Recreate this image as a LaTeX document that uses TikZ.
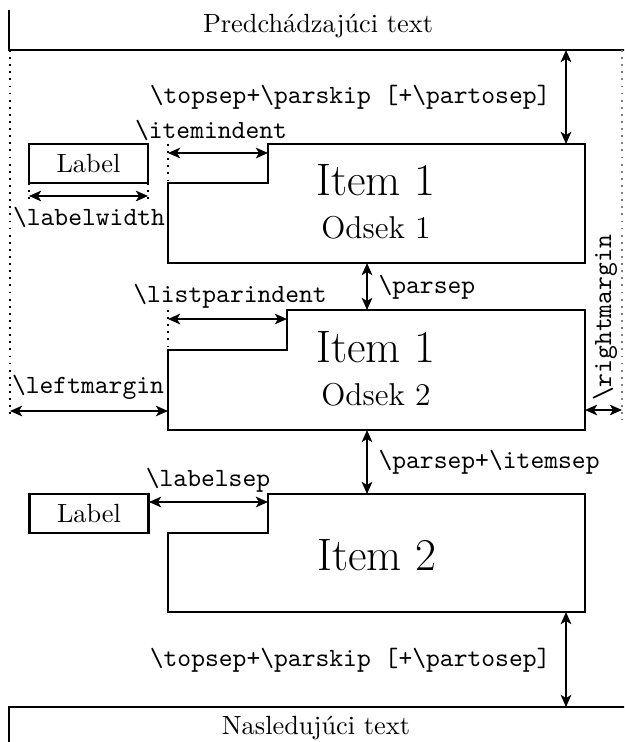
\documentclass[tikz,border=0pt]{standalone}
\usetikzlibrary{arrows.meta}
\begin{document}
\begin{tikzpicture}[x=0.38pt,y=-0.38pt,
  frame/.style={line width=1.05pt},
  dim/.style={line width=1.05pt,{Stealth[length=4.6pt,width=4pt,inset=1.2pt]}-{Stealth[length=4.6pt,width=4pt,inset=1.2pt]}},
  guide/.style={dotted,line width=0.7pt},
  lbl/.style={font=\ttfamily,inner sep=0pt},
  itemtxt/.style={font=\LARGE,inner sep=0pt},
  subtxt/.style={font=\large,inner sep=0pt},
  labelbox/.style={draw,frame,minimum width=45.2pt,minimum height=14.8pt,inner sep=0pt}]
\useasboundingbox (0,0) rectangle (624,742);
\clip (0,0) rectangle (624,742);

% previous and next text
\draw[frame] (9,10) -- (9,50) -- (640,50);
\node[inner sep=0pt] (prev) at (318,26) {Predchádzajúci text};
\draw[frame] (9,760) -- (9,707) -- (640,707);
\node[inner sep=0pt] (next) at (316,728) {Nasledujúci text};

% margin guides
\draw[guide] (10,50) -- (10,415);
\draw[guide,gray] (622,50) -- (622,420);

% item 1, paragraph 1
\draw[frame] (168,183) -- (268,183) -- (268,144) -- (585,144) -- (585,263) -- (168,263) -- cycle;
\node[itemtxt] (i1) at (376,180) {Item 1};
\node[subtxt] (o1) at (376,228) {Odsek 1};
\node[labelbox] (lab1) at (88.5,163.5) {Label};

% item 1, paragraph 2
\draw[frame] (168,350) -- (287,350) -- (287,310) -- (585,310) -- (585,430) -- (168,430) -- cycle;
\node[itemtxt] (i1b) at (376,347) {Item 1};
\node[subtxt] (o2) at (376,395) {Odsek 2};

% item 2
\draw[frame] (168,533) -- (268,533) -- (268,494) -- (585,494) -- (585,612) -- (168,612) -- cycle;
\node[itemtxt] (i2) at (377,555) {Item 2};
\node[labelbox] (lab2) at (89,513.5) {Label};

% coordinates
\coordinate (tsA) at (566,50);  \coordinate (tsB) at (566,144);
\coordinate (iiA) at (168,153); \coordinate (iiB) at (268,153);
\coordinate (lwA) at (29,196);  \coordinate (lwB) at (148,196);
\coordinate (psA) at (367,263); \coordinate (psB) at (367,310);
\coordinate (lpA) at (168,319); \coordinate (lpB) at (287,319);
\coordinate (lmA) at (10,411);  \coordinate (lmB) at (168,411);
\coordinate (rmA) at (585,410); \coordinate (rmB) at (622,410);
\coordinate (piA) at (367,430); \coordinate (piB) at (367,494);
\coordinate (lsA) at (149,502); \coordinate (lsB) at (268,502);
\coordinate (bsA) at (566,612); \coordinate (bsB) at (566,707);

% guides for indents
\draw[guide] (168,144) -- (168,183);
\draw[guide] (29,183) -- (29,201);
\draw[guide] (148,183) -- (148,201);
\draw[guide] (168,310) -- (168,350);

% dimension arrows
\draw[dim] (tsA) -- (tsB);
\draw[dim] (iiA) -- (iiB);
\draw[dim] (lwA) -- (lwB);
\draw[dim] (psA) -- (psB);
\draw[dim] (lpA) -- (lpB);
\draw[dim] (lmA) -- (lmB);
\draw[dim] (rmA) -- (rmB);
\draw[dim] (piA) -- (piB);
\draw[dim] (lsA) -- (lsB);
\draw[dim] (bsA) -- (bsB);

% labels
\node[lbl,anchor=east] (tsl) at (551,97) {\textbackslash topsep+\textbackslash parskip [+\textbackslash partosep]};
\node[lbl] (iil) at (211,130) {\textbackslash itemindent};
\node[lbl] (lwl) at (89,217) {\textbackslash labelwidth};
\node[lbl,anchor=west] (psl) at (378,287) {\textbackslash parsep};
\node[lbl] (lpl) at (230,296) {\textbackslash listparindent};
\node[lbl] (lml) at (88,387) {\textbackslash leftmargin};
\node[lbl,rotate=90] (rml) at (605,318) {\textbackslash rightmargin};
\node[lbl,anchor=west] (pil) at (378,462) {\textbackslash parsep+\textbackslash itemsep};
\node[lbl] (lsl) at (208,480) {\textbackslash labelsep};
\node[lbl,anchor=east] (bsl) at (551,660) {\textbackslash topsep+\textbackslash parskip [+\textbackslash partosep]};
\end{tikzpicture}
\end{document}
